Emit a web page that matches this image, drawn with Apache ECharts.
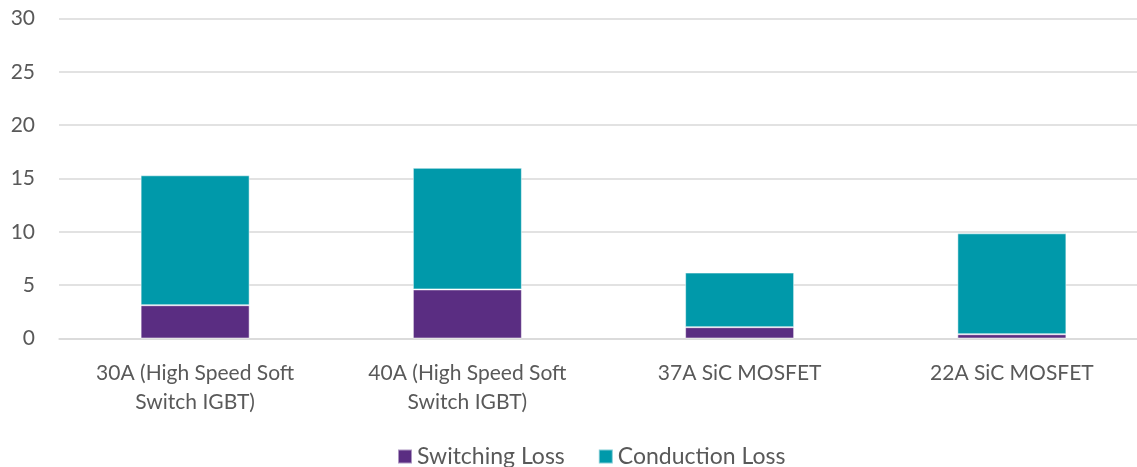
<!DOCTYPE html>
<html>
<head>
<meta charset="utf-8">
<script src="https://cdn.jsdelivr.net/npm/echarts@6/dist/echarts.min.js"></script>
<style>
  html, body { margin: 0; padding: 0; background: #fff; overflow: hidden; }
  /* plot area runs a little past the right edge in the original */
  #chart { width: 1148px; height: 467px; }
</style>
</head>
<body>
<div id="chart"></div>
<script>
// values
const categories = ["30A (High Speed Soft\nSwitch IGBT)", "40A (High Speed Soft\nSwitch IGBT)", "37A SiC MOSFET", "22A SiC MOSFET"];
const switchingLoss = [3.12, 4.6, 1.06, 0.4];
const conductionLoss = [12.18, 11.4, 5.12, 9.46];

const FONT = "Lato";
const TXT = "#595959";

const chart = echarts.init(document.getElementById("chart"));
chart.setOption({
  animation: false,
  textStyle: {fontFamily: FONT},
  grid: {left: 59, top: 18.5, right: 0, bottom: 128.5, containLabel: false},
  legend: {
    top: 440, left: 392,
    icon: "rect", itemWidth: 14, itemHeight: 14, itemGap: 33,
    textStyle: {fontFamily: FONT, fontSize: 23, color: TXT},
    data: ["Switching Loss", "Conduction Loss"],
  },
  xAxis: {
    type: "category",
    data: categories,
    axisLine: {show: true, lineStyle: {color: "#d9d9d9", width: 1.5}},
    axisTick: {show: false},
    axisLabel: {fontFamily: FONT, fontSize: 21, color: TXT, margin: 20, lineHeight: 29},
  },
  yAxis: {
    type: "value", min: 0, max: 30, interval: 5,
    axisLine: {show: false},
    axisTick: {show: false},
    splitLine: {lineStyle: {color: "#d9d9d9", width: 1.5}},
    axisLabel: {fontFamily: FONT, fontSize: 21, color: TXT, margin: 24},
  },
  series: [
    {
      name: "Switching Loss", type: "bar", stack: "loss", barWidth: 109,
      data: switchingLoss,
      itemStyle: {color: "#5a2d82", borderColor: "rgba(255,255,255,0.5)", borderWidth: 1},
    },
    {
      name: "Conduction Loss", type: "bar", stack: "loss", barWidth: 109,
      data: conductionLoss,
      itemStyle: {color: "#0099aa", borderColor: "rgba(255,255,255,0.5)", borderWidth: 1},
    },
  ],
});
</script>
</body>
</html>
